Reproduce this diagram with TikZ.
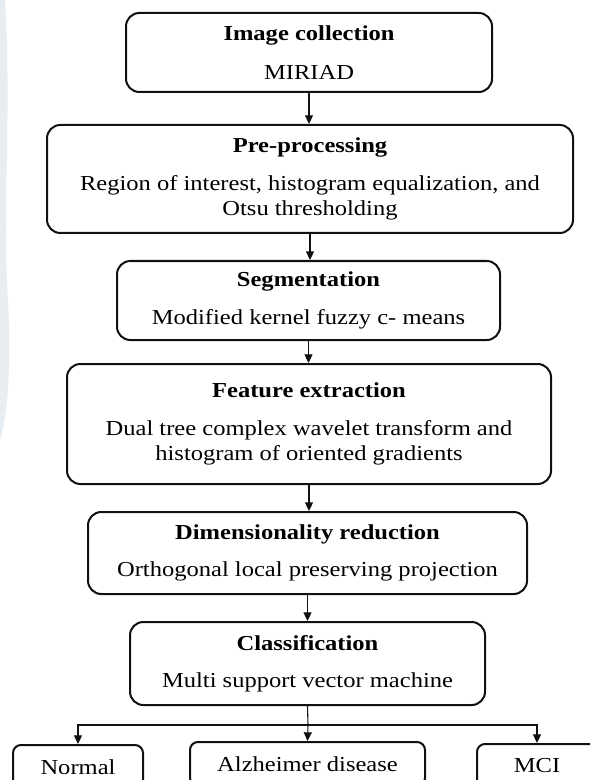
\documentclass[tikz,border=0pt]{standalone}
\usepackage{fontspec}
\setmainfont{Liberation Serif}[FakeStretch=1.15]
\usepackage{xcolor}
\usetikzlibrary{arrows.meta}
\definecolor{boxline}{HTML}{111111}
\definecolor{shadeleft}{HTML}{E8EDF1}
\newlength{\pxu}\setlength{\pxu}{0.75pt}
\tikzset{every node/.append style={font=\fontsize{16}{19}\selectfont}}
\tikzset{
  stagebox/.style={draw=boxline,line width=1.5pt,rounded corners=10pt,align=center,inner sep=0pt},
  classbox/.style={draw=boxline,line width=1.5pt,rounded corners=6pt,minimum height=44\pxu,inner sep=0pt},
  flow/.style={->,draw=boxline,line width=.8pt}
}

\begin{document}
\begin{tikzpicture}[>={Triangle[length=6.5pt,width=6pt]},x=0.75pt,y=-0.75pt]
  % one unit is one pixel of the 590x780 page, y runs downwards
  \useasboundingbox (0,0) rectangle (590,780);
  \clip (0,0) rectangle (590,780);
  \fill[shadeleft] (0,0) -- (5,0) .. controls (12,120) and (2,200) .. (8,300)
    .. controls (12,380) and (6,420) .. (0,440) -- cycle;
  \node[stagebox,minimum width=366\pxu,minimum height=79\pxu] (imgcol) at (309,52.5)
    {\textbf{Image collection}\\[10pt]MIRIAD};
  \node[stagebox,minimum width=526\pxu,minimum height=108\pxu] (preproc) at (310,179)
    {\textbf{Pre-processing}\\[9pt]Region of interest, histogram equalization, and\\Otsu thresholding};
  \node[stagebox,minimum width=383\pxu,minimum height=79\pxu] (segm) at (308.5,300.5)
    {\textbf{Segmentation}\\[9pt]Modified kernel fuzzy c- means};
  \node[stagebox,minimum width=484\pxu,minimum height=120\pxu] (featext) at (309,424)
    {\textbf{Feature extraction}\\[9pt]Dual tree complex wavelet transform and\\histogram of oriented gradients};
  \node[stagebox,minimum width=439\pxu,minimum height=82\pxu] (dimred) at (307.5,553)
    {\textbf{Dimensionality reduction}\\[9pt]Orthogonal local preserving projection};
  \node[stagebox,minimum width=355\pxu,minimum height=83\pxu] (classif) at (307.5,663.5)
    {\textbf{Classification}\\[9pt]Multi support vector machine};
  \node[classbox,minimum width=130\pxu] (normal) at (78,767) {Normal};
  \node[classbox,minimum width=235\pxu] (alz) at (307.5,764) {Alzheimer disease};
  \node[classbox,minimum width=120\pxu] (mci) at (537,766) {MCI};
  \draw[flow] (imgcol.south) -- (imgcol.south |- preproc.north);
  \draw[flow] (preproc.south) -- (preproc.south |- segm.north);
  \draw[flow] (segm.south) -- (segm.south |- featext.north);
  \draw[flow] (featext.south) -- (featext.south |- dimred.north);
  \draw[flow] (dimred.south) -- (dimred.south |- classif.north);
  \coordinate (split) at (308,725);
  \draw[draw=boxline,line width=.8pt] (classif.south) -- (split);
  \draw[flow] (split) -- (alz.north);
  \draw[flow] (split) -| (normal.north);
  \draw[flow] (split) -| (mci.north);
\end{tikzpicture}
\end{document}
